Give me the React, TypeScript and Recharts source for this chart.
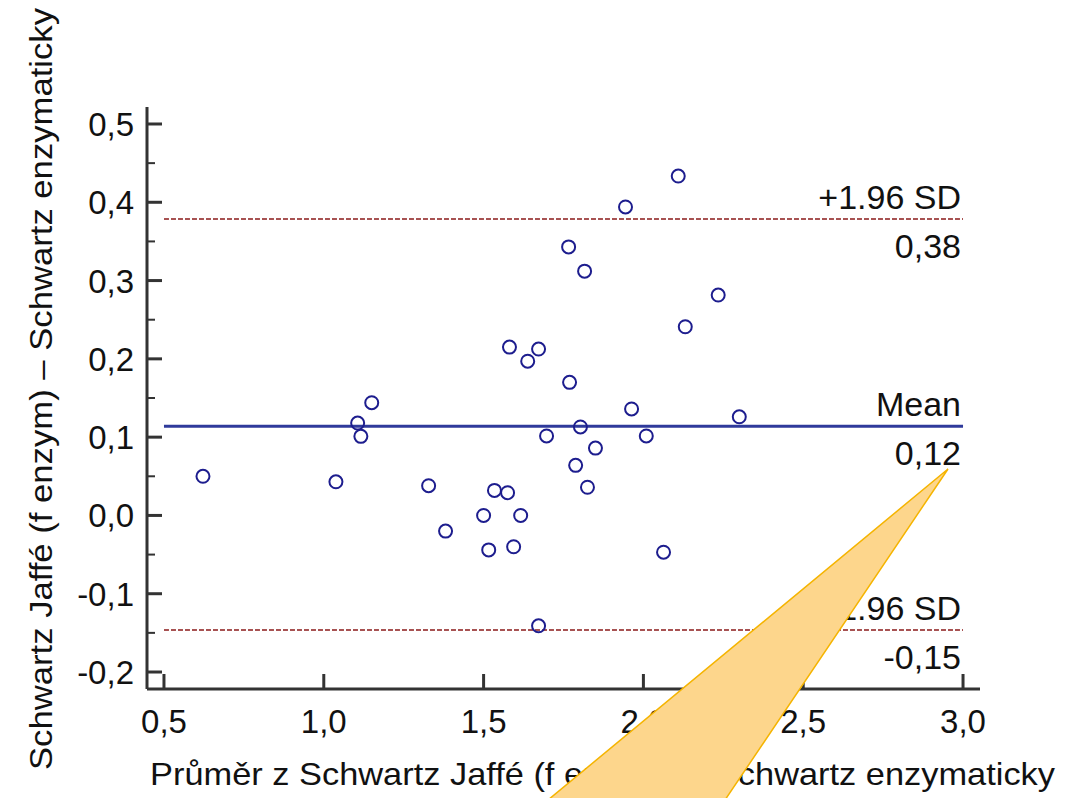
import React from 'react';
import { ScatterChart, Scatter, XAxis, YAxis, ReferenceLine } from 'recharts';

// average of the two methods (x) and their difference (y)
const avgValues = [
  0.622, 1.038, 1.106, 1.116, 1.15, 1.328, 1.381, 1.5, 1.516, 1.534, 1.575,
  1.581, 1.594, 1.616, 1.638, 1.672, 1.672, 1.697, 1.766, 1.769, 1.788, 1.803,
  1.816, 1.825, 1.85, 1.944, 1.963, 2.009, 2.063, 2.109, 2.131, 2.234, 2.3,
];
const diffValues = [
  0.05, 0.043, 0.118, 0.101, 0.144, 0.038, -0.02, 0.0, -0.044, 0.032, 0.029,
  0.215, -0.04, 0.0, 0.197, 0.2125, -0.141, 0.1015, 0.343, 0.17, 0.064, 0.113,
  0.312, 0.036, 0.086, 0.394, 0.136, 0.1015, -0.047, 0.4335, 0.241, 0.2815, 0.126,
];

const xTicks = [0.5, 1.0, 1.5, 2.0, 2.5, 3.0];
const yTicks = [-0.2, -0.15, -0.1, -0.05, 0, 0.05, 0.1, 0.15, 0.2, 0.25, 0.3, 0.35, 0.4, 0.45, 0.5];
const yMajorTicks = [-0.2, -0.1, 0, 0.1, 0.2, 0.3, 0.4, 0.5];

const meanDiff = 0.114;
const upperLimit = 0.3786;
const lowerLimit = -0.1464;
const limitNames = ['+1.96 SD', 'Mean', '-1.96 SD'];
const limitTexts = ['0,38', '0,12', '-0,15'];

const xTitle = 'Průměr z Schwartz Jaffé (f enzym) a Schwartz enzymaticky';
const yTitle = 'Schwartz Jaffé (f enzym) – Schwartz enzymaticky';

const data = avgValues.map((x, i) => ({ x, y: diffValues[i] }));

const axisColor = '#333333';
const tickFont = '"Liberation Sans", Arial, sans-serif';

const fmt = (v: number) => v.toFixed(1).replace('.', ',');

const YTick = (props: any) => {
  const { x, y, payload } = props;
  const major = yMajorTicks.some((t) => Math.abs(t - payload.value) < 1e-6);
  return (
    <g>
      <line x1={x} x2={x + (major ? 15 : 8)} y1={y} y2={y} stroke={axisColor} strokeWidth={major ? 3 : 2} />
      {major && (
        <text x={x - 13} y={y + 12} textAnchor="end" fontSize={33} fontFamily={tickFont} fill="#111">
          {fmt(payload.value)}
        </text>
      )}
    </g>
  );
};

const XTick = (props: any) => {
  const { x, y, payload } = props;
  return (
    <g>
      <line x1={x} x2={x} y1={y} y2={y - 15} stroke={axisColor} strokeWidth={3} />
      <text x={x} y={y + 44} textAnchor="middle" fontSize={33} fontFamily={tickFont} fill="#111">
        {fmt(payload.value)}
      </text>
    </g>
  );
};

const LimitLabel = (props: any) => {
  const { viewBox, name, text } = props;
  const right = viewBox.x + viewBox.width - 2;
  return (
    <g fontFamily={tickFont} fontSize={34} fill="#111">
      <text x={right} y={viewBox.y - 10} textAnchor="end">{name}</text>
      <text x={right} y={viewBox.y + 39} textAnchor="end">{text}</text>
    </g>
  );
};

const Circle = (props: any) => (
  <circle cx={props.cx} cy={props.cy} r={6.5} fill="none" stroke="#1d1d8e" strokeWidth={2} />
);

export default function App() {
  return (
    <div style={{ position: 'absolute', left: 0, top: 0, width: 1084, height: 798, background: '#fff', overflow: 'hidden' }}>
      <ScatterChart width={1084} height={798} margin={{ top: 107, right: 104, bottom: 0, left: 0 }}>
        <XAxis
          type="number"
          dataKey="x"
          domain={[0.4469, 3.0531]}
          ticks={xTicks}
          interval={0}
          tick={<XTick />}
          tickSize={0}
          tickMargin={0}
          tickLine={false}
          height={109}
          axisLine={{ stroke: axisColor, strokeWidth: 3 }}
          label={(p: any) => (
            <text x={150} y={p.viewBox.y + 96} fontSize={32} fontFamily={tickFont} fill="#111" textLength={905} lengthAdjust="spacingAndGlyphs">
              {xTitle}
            </text>
          )}
        />
        <YAxis
          type="number"
          dataKey="y"
          domain={[-0.2217, 0.5217]}
          ticks={yTicks}
          interval={0}
          tick={<YTick />}
          tickSize={0}
          tickMargin={0}
          tickLine={false}
          width={147}
          axisLine={{ stroke: axisColor, strokeWidth: 3 }}
          label={() => {
            const cy = 389;
            return (
              <text x={52} y={cy} transform={`rotate(-90 52 ${cy})`} textAnchor="middle" fontSize={32} fontFamily={tickFont} fill="#111" textLength={762} lengthAdjust="spacingAndGlyphs">
                {yTitle}
              </text>
            );
          }}
        />
        <ReferenceLine
          segment={[{ x: 0.5, y: upperLimit }, { x: 3.0, y: upperLimit }]}
          stroke="#8b1a1a"
          strokeWidth={1.5}
          strokeDasharray="5 2"
          label={<LimitLabel name={limitNames[0]} text={limitTexts[0]} />}
        />
        <ReferenceLine
          segment={[{ x: 0.5, y: meanDiff }, { x: 3.0, y: meanDiff }]}
          stroke="#2f3a9b"
          strokeWidth={3}
          label={<LimitLabel name={limitNames[1]} text={limitTexts[1]} />}
        />
        <ReferenceLine
          segment={[{ x: 0.5, y: lowerLimit }, { x: 3.0, y: lowerLimit }]}
          stroke="#8b1a1a"
          strokeWidth={1.5}
          strokeDasharray="5 2"
          label={<LimitLabel name={limitNames[2]} text={limitTexts[2]} />}
        />
        <Scatter data={data} shape={<Circle />} isAnimationActive={false} />
      </ScatterChart>
      {/* callout pointer drawn over the chart */}
      <svg width={1084} height={798} style={{ position: 'absolute', left: 0, top: 0, pointerEvents: 'none' }}>
        <polygon points="948,469 548,800 725,800" fill="#fdd68c" stroke="#f5b400" strokeWidth={1.5} />
      </svg>
    </div>
  );
}
